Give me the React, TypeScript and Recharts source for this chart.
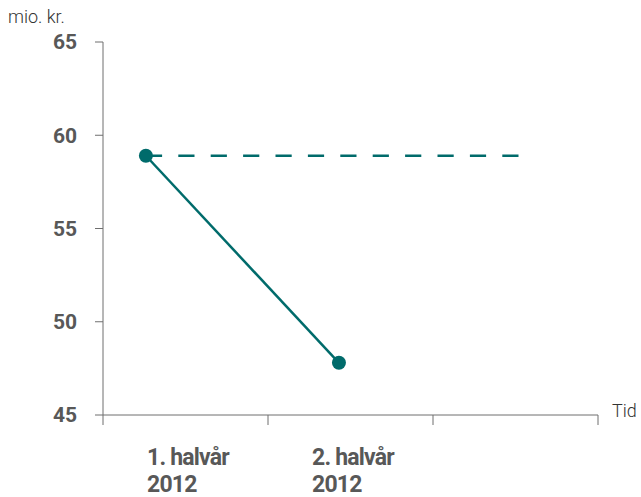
import React from 'react';
import { LineChart, Line, XAxis, YAxis } from 'recharts';

// positions on the time axis (axis ticks at 0..3)
const periodX = [0.26, 1.43];
const periodLabels = [['1. halvår', '2012'], ['2. halvår', '2012']];
const actualValues = [58.9, 47.8];
const targetEndX = 2.52;
const targetValue = 58.9;
const xTicks = [0, 1, 2, 3];
const yTicks = [45, 50, 55, 60, 65];

const TEAL = '#006b6b';
const AXIS = '#6f6f6f';
const TEXT = '#585858';
const FONT = 'Roboto, "Noto Sans", sans-serif';

const data = [
  ...periodX.map((t, i) => ({ t, actual: actualValues[i], target: i === 0 ? targetValue : null })),
  { t: targetEndX, actual: null, target: targetValue },
];

function XTick(props: any) {
  const { x, y, index } = props;
  const lines = periodLabels[index];
  if (!lines) return null;
  return (
    <text x={x + 44} y={y} textAnchor="start" fill={TEXT} fontSize={23} fontWeight={700} fontFamily={FONT} letterSpacing={-0.8}>
      <tspan x={x + 44} y={y + 38}>{lines[0]}</tspan>
      <tspan x={x + 44} y={y + 65}>{lines[1]}</tspan>
    </text>
  );
}

export default function App() {
  return (
    <div style={{ position: 'absolute', left: 0, top: 0, width: 641, height: 497, background: '#fff' }}>
      <LineChart
        width={641}
        height={497}
        data={data}
        margin={{ top: 42, right: 43, left: 0, bottom: 0 }}
      >
        <XAxis
          dataKey="t"
          type="number"
          domain={[0, 3]}
          ticks={xTicks}
          tickSize={10}
          height={82}
          stroke={AXIS}
          tickLine={{ stroke: AXIS }}
          tick={<XTick />}
          interval={0}
        />
        <YAxis
          domain={[45, 65]}
          ticks={yTicks}
          width={103}
          tickSize={8}
          tickMargin={18}
          stroke={AXIS}
          tick={{ fill: TEXT, fontSize: 21, fontWeight: 700, fontFamily: FONT }}
        />
        <Line
          dataKey="target"
          stroke={TEAL}
          strokeWidth={2.5}
          strokeDasharray="16.2 16.2"
          dot={false}
          connectNulls
          isAnimationActive={false}
        />
        <Line
          dataKey="actual"
          stroke={TEAL}
          strokeWidth={2.5}
          dot={{ r: 7, fill: TEAL, stroke: TEAL, strokeWidth: 0 }}
          isAnimationActive={false}
        />
      </LineChart>
      <div style={{ position: 'absolute', left: 8, top: 6, fontSize: 18, color: '#333', fontFamily: FONT, fontWeight: 300 }}>
        mio. kr.
      </div>
      <div style={{ position: 'absolute', left: 612, top: 400, fontSize: 18, color: '#333', fontFamily: FONT, fontWeight: 300 }}>
        Tid
      </div>
    </div>
  );
}
